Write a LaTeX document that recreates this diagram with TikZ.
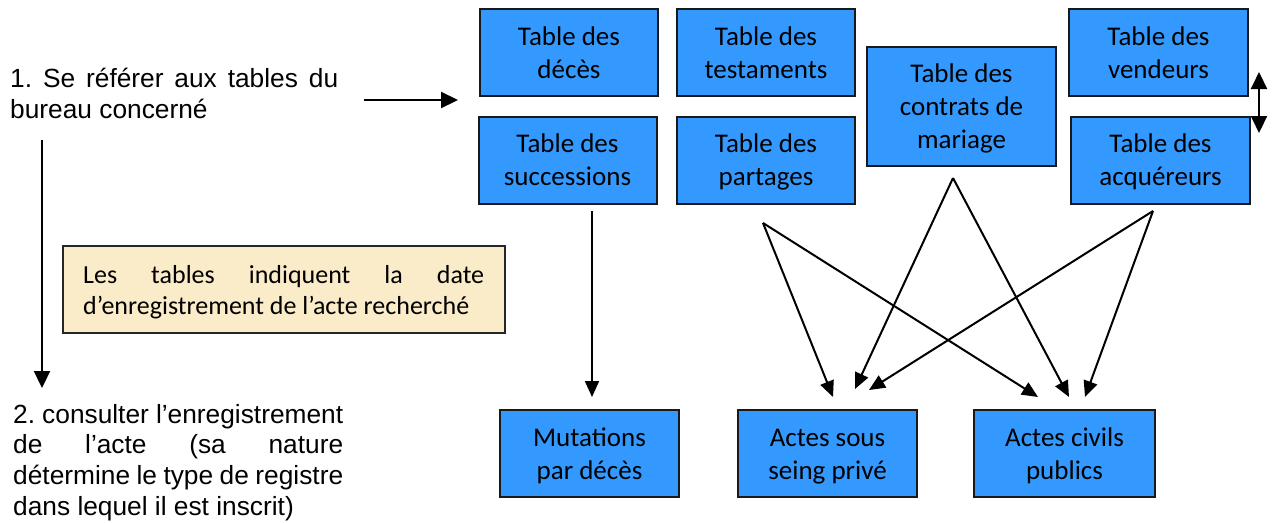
\documentclass[tikz,border=0pt]{standalone}
\usepackage{fontspec}
\newfontfamily\carl{Carlito}
\newfontfamily\arl{Liberation Sans}
\usetikzlibrary{arrows.meta}
\definecolor{boxblue}{RGB}{51,153,255}
\definecolor{cream}{RGB}{250,235,201}
\newcommand{\mystrut}{\rule[-6pt]{0pt}{30pt}}
\frenchspacing
\begin{document}
\begin{tikzpicture}[x=1pt,y=-1pt,
  tbl/.style={draw=black!90, line width=2pt, fill=boxblue, inner sep=0pt,
    minimum width=178pt, minimum height=87pt, align=center,
    font=\carl\fontsize{27}{33}\selectfont},
  arr/.style={line width=2pt, -{Triangle[length=16pt,width=14pt]}},
  txt/.style={inner sep=0pt, anchor=base west, font=\arl\fontsize{26.3}{31}\selectfont},
  ctxt/.style={inner sep=0pt, anchor=base west, font=\carl\fontsize{26}{32}\selectfont}]
\useasboundingbox (0,0) rectangle (1273,522);
\fill[white] (0,0) rectangle (1273,522);

% top tables
\node[tbl] (deces) at (569,52.5) {\mystrut Table des\\décès\mystrut};
\node[tbl] (testaments) at (766,52.5) {\mystrut Table des\\testaments\mystrut};
\node[tbl] (successions) at (567.5,160) {\mystrut Table des\\successions\mystrut};
\node[tbl] (partages) at (766,160) {\mystrut Table des\\partages\mystrut};
\node[tbl, minimum width=189pt, minimum height=119pt] (contrats) at (961.5,106.5) {\mystrut Table des\\contrats de\\mariage\mystrut};
\node[tbl, minimum width=179pt] (vendeurs) at (1158.5,52.5) {\mystrut Table des\\vendeurs\mystrut};
\node[tbl, minimum width=179pt] (acquereurs) at (1160.5,160) {\mystrut Table des\\acquéreurs\mystrut};

% bottom registers
\node[tbl, minimum width=179pt] (mutations) at (589.5,453.5) {\mystrut Mutations\\par décès\mystrut};
\node[tbl, minimum width=179pt] (sousseing) at (827.5,453.5) {\mystrut Actes sous\\seing privé\mystrut};
\node[tbl, minimum width=181pt] (civils) at (1064.5,453.5) {\mystrut Actes civils\\publics\mystrut};

% cream note
\node[draw=black!85, line width=1.5pt, fill=cream, minimum width=442pt, minimum height=87pt, inner sep=0pt] (note) at (284,289.5) {};
\node[ctxt] (noteA) at (83,283) {\makebox[401pt][s]{Les tables indiquent la date}};
\node[ctxt] (noteB) at (83,314) {d’enregistrement de l’acte recherché};

% left texts
\node[txt] (s1a) at (10,87) {\makebox[328pt][s]{1. Se référer aux tables du}};
\node[txt] (s1b) at (10,118) {bureau concerné};
\node[txt] (s2a) at (13,423) {\makebox[330pt][s]{2. consulter l’enregistrement}};
\node[txt] (s2b) at (13,453.7) {\makebox[330pt][s]{de l’acte (sa nature}};
\node[txt] (s2c) at (13,484.3) {\makebox[330pt][s]{détermine le type de registre}};
\node[txt] (s2d) at (13,515) {dans lequel il est inscrit)};

% connector end points
\coordinate (hA) at (364,100);  \coordinate (hB) at (458,100);
\coordinate (vA) at (42,140);   \coordinate (vB) at (42,388);
\coordinate (sA) at (592,211);  \coordinate (sB) at (592,397);
\coordinate (pA) at (763,223);
\coordinate (cA) at (953,178);
\coordinate (aA) at (1153,211);
\coordinate (t1) at (833,397);  \coordinate (t2) at (855,389);  \coordinate (t3) at (869,390);
\coordinate (u1) at (1038,397); \coordinate (u2) at (1069,397); \coordinate (u3) at (1085,397);
\coordinate (dA) at (1259,72);  \coordinate (dB) at (1259,133);

\draw[arr, line width=2.2pt, -{Triangle[length=17pt,width=16pt]}] (hA) -- (hB);
\draw[arr, line width=2.2pt, -{Triangle[length=17pt,width=16pt]}] (vA) -- (vB);
\draw[arr] (sA) -- (sB);
\draw[arr] (pA) -- (t1);
\draw[arr] (pA) -- (u1);
\draw[arr] (cA) -- (t2);
\draw[arr] (cA) -- (u2);
\draw[arr] (aA) -- (t3);
\draw[arr] (aA) -- (u3);
\draw[line width=2pt, {Triangle[length=17pt,width=16pt]}-{Triangle[length=17pt,width=16pt]}] (dA) -- (dB);
\end{tikzpicture}
\end{document}
